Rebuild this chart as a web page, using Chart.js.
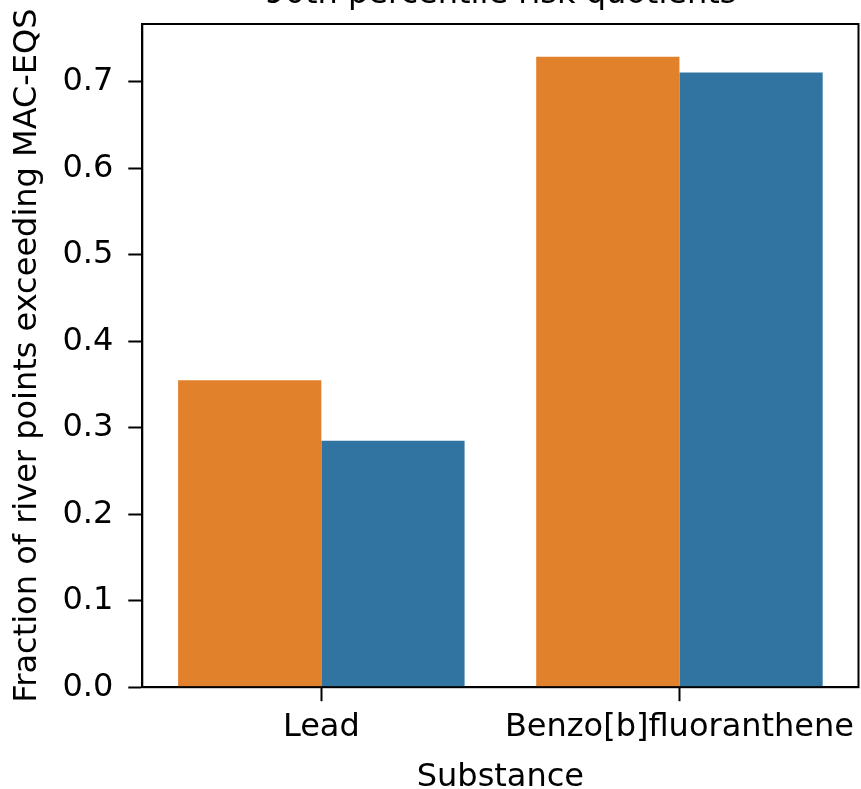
<!DOCTYPE html>
<html>
<head>
<meta charset="utf-8">
<script src="https://cdn.jsdelivr.net/npm/chart.js@4"></script>
<style>
  html, body { margin: 0; padding: 0; background: #fff; }
  #holder { position: relative; width: 861px; height: 789px; }
</style>
</head>
<body>
<div id="holder"><canvas id="chart"></canvas></div>
<script>
const substances = ['Lead', 'Benzo[b]fluoranthene'];
const orangeValues = [0.355, 0.729];
const blueValues = [0.285, 0.711];
const yTicks = [0.0, 0.1, 0.2, 0.3, 0.4, 0.5, 0.6, 0.7];
const chartTitle = '90th percentile risk quotients';

const FONT = 'DejaVu Sans';

// matplotlib-style box around the axes, and a title centred over the axes
// (the top of the title is cropped off in the original figure)
const boxPlugin = {
  id: 'box',
  afterDraw(chart) {
    const { ctx, chartArea } = chart;
    ctx.save();
    ctx.strokeStyle = '#000';
    ctx.lineWidth = 2;
    ctx.strokeRect(chartArea.left, chartArea.top, chartArea.right - chartArea.left, chartArea.bottom - chartArea.top);
    ctx.fillStyle = '#000';
    ctx.font = `32px "${FONT}"`;
    ctx.textAlign = 'center';
    ctx.textBaseline = 'alphabetic';
    ctx.fillText(chartTitle, (chartArea.left + chartArea.right) / 2, chartArea.top - 21);
    ctx.restore();
  }
};

new Chart(document.getElementById('chart'), {
  type: 'bar',
  data: {
    labels: substances,
    datasets: [
      {
        data: orangeValues,
        backgroundColor: '#e1812c',
        categoryPercentage: 0.8,
        barPercentage: 1.0
      },
      {
        data: blueValues,
        backgroundColor: '#3274a1',
        categoryPercentage: 0.8,
        barPercentage: 1.0
      }
    ]
  },
  options: {
    responsive: true,
    maintainAspectRatio: false,
    animation: false,
    layout: { padding: { left: 0, right: 0, top: 24, bottom: 0 } },
    plugins: {
      legend: { display: false },
      tooltip: { enabled: false },
      title: { display: false }
    },
    scales: {
      x: {
        grid: {
          display: true,
          drawOnChartArea: false,
          offset: false,
          tickLength: 14,
          tickWidth: 2,
          tickColor: '#000'
        },
        border: { display: true, color: '#000', width: 2 },
        ticks: {
          color: '#000',
          font: { family: FONT, size: 32 },
          padding: 7,
          maxRotation: 0,
          autoSkip: false
        },
        title: {
          display: true,
          text: 'Substance',
          color: '#000',
          font: { family: FONT, size: 32 },
          padding: { top: 5, bottom: -8 }
        }
      },
      y: {
        min: 0,
        max: 0.767,
        afterBuildTicks(axis) {
          axis.ticks = yTicks.map(v => ({ value: v }));
        },
        grid: {
          display: true,
          drawOnChartArea: false,
          tickLength: 14,
          tickWidth: 2,
          tickColor: '#000'
        },
        border: { display: true, color: '#000', width: 2 },
        ticks: {
          color: '#000',
          // small lineHeight keeps the label half-height from pushing the plot down
          font: { family: FONT, size: 32, lineHeight: 0.5 },
          padding: 15,
          callback: v => Number(v).toFixed(1)
        },
        title: {
          display: true,
          text: 'Fraction of river points exceeding MAC-EQS',
          color: '#000',
          font: { family: FONT, size: 32 },
          padding: { top: 8, bottom: 1 }
        }
      }
    }
  },
  plugins: [boxPlugin]
});
</script>
</body>
</html>
